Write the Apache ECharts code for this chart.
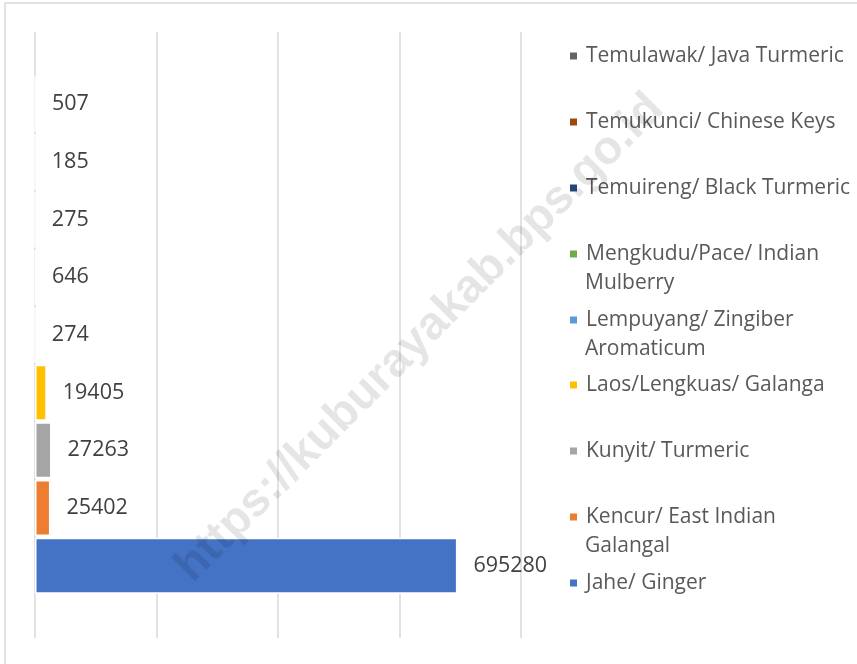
<!DOCTYPE html>
<html>
<head>
<meta charset="utf-8">
<script src="https://cdn.jsdelivr.net/npm/echarts@6/dist/echarts.min.js"></script>
<style>
  html, body { margin: 0; padding: 0; background: #ffffff; }
  #herbalChart { width: 857px; height: 664px; }
</style>
</head>
<body>
<div id="herbalChart"></div>
<script>
// data, top to bottom as drawn
const plantNames = [
  "Temulawak/ Java Turmeric",
  "Temukunci/ Chinese Keys",
  "Temuireng/ Black Turmeric",
  "Mengkudu/Pace/ Indian Mulberry",
  "Lempuyang/ Zingiber Aromaticum",
  "Laos/Lengkuas/ Galanga",
  "Kunyit/ Turmeric",
  "Kencur/ East Indian Galangal",
  "Jahe/ Ginger"
];
const plantValues = [507, 185, 275, 646, 274, 19405, 27263, 25402, 695280];
const plantColors = ["#636363", "#9E480E", "#264478", "#70AD47", "#5B9BD5", "#FFC000", "#A5A5A5", "#ED7D31", "#4472C4"];
// legend lines (second line drawn as plain text)
const legendFirstLine = ["Temulawak/ Java Turmeric", "Temukunci/ Chinese Keys", "Temuireng/ Black Turmeric", "Mengkudu/Pace/ Indian", "Lempuyang/ Zingiber", "Laos/Lengkuas/ Galanga", "Kunyit/ Turmeric", "Kencur/ East Indian", "Jahe/ Ginger"];
const legendSecondLine = ["", "", "", "Mulberry", "Aromaticum", "", "", "Galangal", ""];
const legendCenterY = [56, 122, 188, 254, 320, 385, 451, 517, 583];

const fontName = "'Open Sans', 'Noto Sans', sans-serif";

let myChart = echarts.init(document.getElementById("herbalChart"));

let seriesList = [];
let legendList = [];
let extraText = [];
plantNames.forEach((name, i) => {
  seriesList.push({
    name: name,
    type: "bar",
    data: [plantValues[i]],
    barWidth: 56,
    barGap: "3%",
    itemStyle: { color: plantColors[i], borderColor: "#ffffff", borderWidth: 1.5 },
    label: {
      show: true,
      position: "right",
      distance: 16,
      color: "#404040",
      fontFamily: fontName,
      fontSize: 21.5
    }
  });
  legendList.push({
    data: [name],
    orient: "vertical",
    left: 568,
    top: legendCenterY[i] - 14.5,
    padding: 0,
    icon: "rect",
    itemWidth: 9,
    itemHeight: 9,
    selectedMode: false,
    formatter: function () { return legendFirstLine[i]; },
    textStyle: { color: "#595959", fontFamily: fontName, fontSize: 21, lineHeight: 29, padding: [0, 0, 0, 3] }
  });
  if (legendSecondLine[i]) {
    extraText.push({
      type: "text",
      left: 585,
      top: legendCenterY[i] + 29 - 14.5,
      style: { text: legendSecondLine[i], fill: "#595959", font: "21px " + fontName, lineHeight: 29 }
    });
  }
});

let option = {
  animation: false,
  backgroundColor: "#ffffff",
  grid: { left: 35, right: 336, top: 32, bottom: 26 },
  xAxis: {
    type: "value",
    min: 0,
    max: 800000,
    interval: 200000,
    axisLabel: { show: false },
    axisLine: { show: false },
    axisTick: { show: false },
    splitLine: { lineStyle: { color: "#d9d9d9", width: 1.5 } }
  },
  yAxis: {
    type: "category",
    data: [""],
    axisLine: { show: false },
    axisTick: { show: false },
    axisLabel: { show: false }
  },
  legend: legendList,
  series: seriesList,
  graphic: [
    {
      type: "rect",
      shape: { x: 5, y: 3, width: 870, height: 680 },
      style: { fill: "none", stroke: "#d9d9d9", lineWidth: 1.5 },
      silent: true,
      z: -10
    },
    {
      type: "text",
      x: 420,
      y: 338,
      rotation: Math.PI / 4,
      z: 100,
      silent: true,
      style: {
        text: "https://kuburayakab.bps.go.id",
        font: "bold 47px 'Liberation Sans', Arial, sans-serif",
        fill: "rgba(0,0,0,0.1)",
        align: "center",
        verticalAlign: "middle"
      }
    }
  ].concat(extraText)
};

myChart.setOption(option);
</script>
</body>
</html>
